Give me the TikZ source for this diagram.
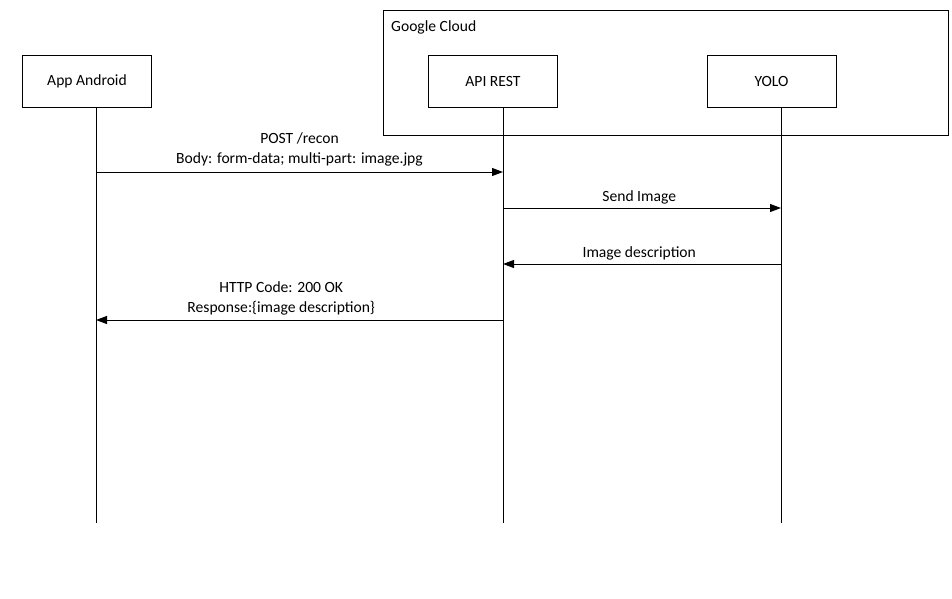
\documentclass[tikz,border=0pt]{standalone}
\usepackage{fontspec}
\setmainfont{Carlito}
\usetikzlibrary{calc, arrows.meta, positioning}
\usepackage{xcolor}

\begin{document}
\begin{tikzpicture}[auto, x=1pt, y=-1pt, font=\fontsize{15.6}{20}\selectfont]
			\tikzstyle{actor} = [draw=black, line width=1pt, rectangle, minimum width=129pt, minimum height=52pt, align=center]
			\tikzstyle{frame} = [draw=black, line width=1pt]
			\tikzstyle{life} = [line width=1pt]
			\tikzstyle{arrow} = [line width=1pt, -{Triangle[length=11pt, width=8pt]}]
			\tikzstyle{msg} = [above, align=center, inner sep=3.5pt]
			
			\useasboundingbox (0, 0) rectangle (952, 598);
			
			% google cloud frame
			\draw[frame] (383, 10) rectangle (948, 135);
			\node[anchor=west, inner sep=0pt] at (391, 27) (cloud) {Google Cloud};
			
			\node[actor]	at (87, 81)		(app)	{App Android};
			\node[actor]	at (493, 81)	(api)	{API REST};
			\node[actor]	at (771.5, 81)	(yolo)	{YOLO};
			
			\coordinate (append)	at (96, 523);
			\coordinate (apiend)	at (503, 523);
			\coordinate (yoloend)	at (781, 523);
			
			\draw [life] (app.south -| append) -- (append);
			\draw [life] (api.south -| apiend) -- (apiend);
			\draw [life] (yolo.south -| yoloend) -- (yoloend);
			
			\draw [arrow] (append |- 0, 172) -- (apiend |- 0, 172) node [msg, midway, yshift=2pt] {POST /recon\\Body: form-data; multi-part: image.jpg};
			\draw [arrow] (apiend |- 0, 208) -- (yoloend |- 0, 208) node [msg, pos=0.49] {Send Image};
			\draw [arrow] (yoloend |- 0, 264) -- (apiend |- 0, 264) node [msg, pos=0.51] {Image description};
			\draw [arrow] (apiend |- 0, 320) -- (append |- 0, 320) node [msg, pos=0.545, yshift=1pt] {HTTP Code: 200 OK\\Response:\{image description\}};
		\end{tikzpicture}
\end{document}
